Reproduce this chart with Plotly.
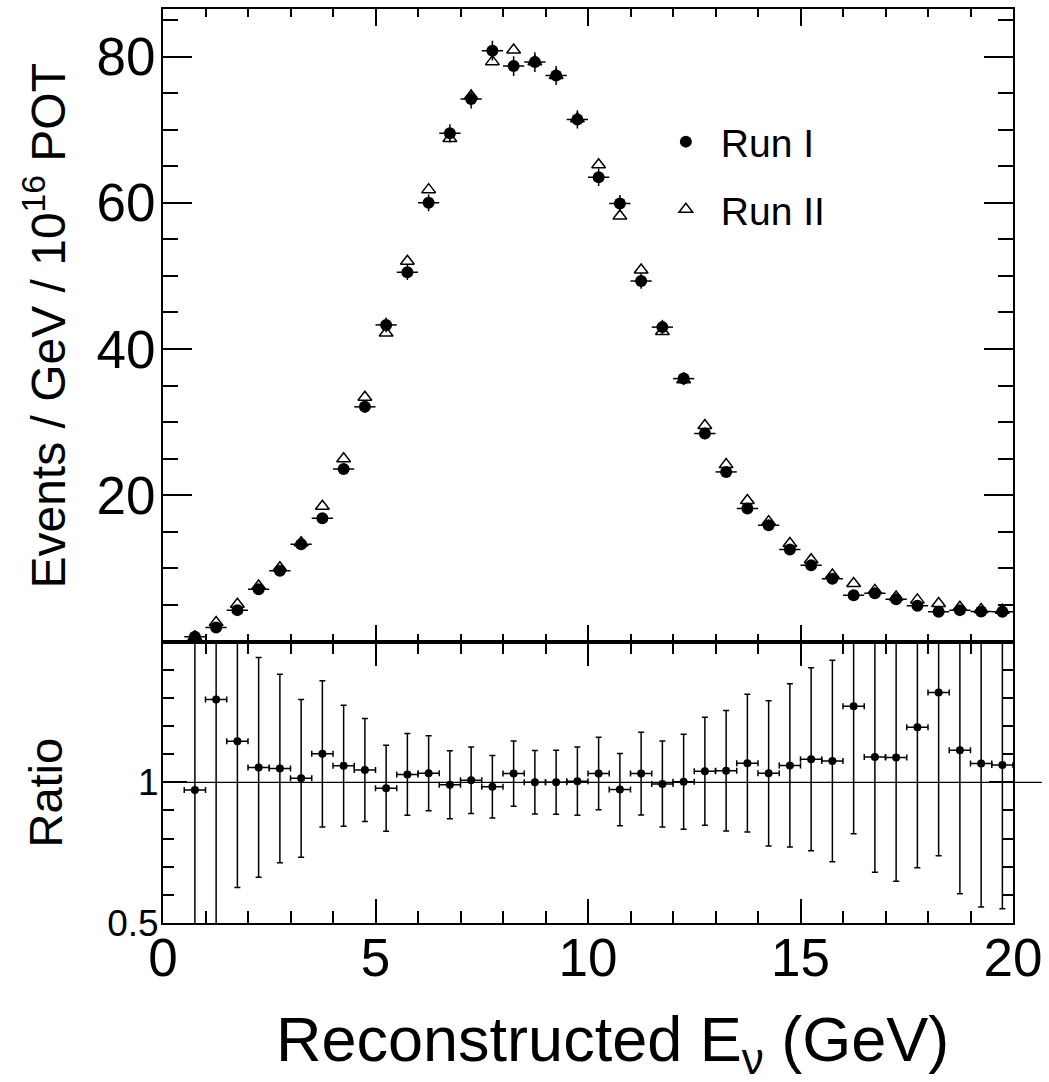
import plotly.graph_objects as go
from plotly.subplots import make_subplots

# Reconstructed neutrino energy bins (GeV): centres and half-width
e_nu = [0.75, 1.25, 1.75, 2.25, 2.75, 3.25, 3.75, 4.25, 4.75, 5.25,
        5.75, 6.25, 6.75, 7.25, 7.75, 8.25, 8.75, 9.25, 9.75, 10.25,
        10.75, 11.25, 11.75, 12.25, 12.75, 13.25, 13.75, 14.25, 14.75, 15.25,
        15.75, 16.25, 16.75, 17.25, 17.75, 18.25, 18.75, 19.25, 19.75]
bin_half_width = 0.25

# Events / GeV / 1e16 POT
run1 = [0.67, 1.94, 4.3, 7.17, 9.67, 13.3, 16.85, 23.6, 32.1, 43.3,
        50.5, 60.0, 69.5, 74.2, 80.8, 78.7, 79.25, 77.4, 71.4, 63.5,
        59.9, 49.3, 43.0, 35.96, 28.45, 23.2, 18.2, 15.9, 12.6, 10.45,
        8.6, 6.35, 6.6, 5.8, 4.9, 4.08, 4.3, 4.1, 4.08]
run1_err = [0.12, 0.2, 0.3, 0.4, 0.45, 0.55, 0.6, 0.7, 0.85, 1.0,
            1.05, 1.15, 1.25, 1.3, 1.35, 1.35, 1.35, 1.3, 1.25, 1.2,
            1.15, 1.05, 1.0, 0.9, 0.8, 0.7, 0.65, 0.6, 0.55, 0.5,
            0.45, 0.4, 0.4, 0.35, 0.35, 0.3, 0.3, 0.3, 0.3]
run2 = [0.65, 2.6, 5.1, 7.6, 10.1, 13.5, 18.5, 25.0, 33.4, 42.2,
        52.0, 61.8, 68.8, 74.6, 79.3, 80.9, 79.3, 77.4, 71.5, 65.2,
        58.2, 50.8, 42.4, 35.8, 29.55, 24.2, 19.3, 16.4, 13.4, 11.2,
        9.1, 7.95, 7.0, 6.1, 5.7, 5.2, 4.7, 4.4, 4.3]

# Run II / Run I
ratio = [0.973, 1.294, 1.146, 1.053, 1.049, 1.014, 1.101, 1.059, 1.044, 0.979,
         1.028, 1.032, 0.991, 1.007, 0.984, 1.031, 1.000, 1.000, 1.004, 1.031,
         0.974, 1.031, 0.994, 1.002, 1.039, 1.041, 1.068, 1.032, 1.060, 1.082,
         1.076, 1.270, 1.090, 1.088, 1.196, 1.319, 1.114, 1.067, 1.061]
ratio_err = [0.9, 0.9, 0.52, 0.39, 0.335, 0.28, 0.26, 0.215, 0.183, 0.153,
             0.145, 0.133, 0.121, 0.118, 0.111, 0.116, 0.113, 0.114, 0.121, 0.129,
             0.128, 0.147, 0.153, 0.169, 0.192, 0.214, 0.245, 0.258, 0.29, 0.325,
             0.358, 0.453, 0.41, 0.44, 0.50, 0.58, 0.51, 0.51, 0.51]

x_range = [0, 20]
top_range = [0, 86.5]
ratio_range = [0.5, 1.5]
top_ticks = [20, 40, 60, 80]
ratio_ticks = [0.5, 1.0]
x_ticks = [0, 5, 10, 15, 20]

FONT = "Liberation Sans, Arial, Helvetica, sans-serif"
W, H = 1049, 1082
ML, MR, MT, MB = 163, 34, 7, 159
ratio_frac = 0.3079

fig = make_subplots(rows=2, cols=1, shared_xaxes=False, vertical_spacing=0,
                    row_heights=[1 - ratio_frac, ratio_frac])

half = [bin_half_width] * len(e_nu)

fig.add_trace(go.Scatter(
    x=e_nu, y=run1, mode="markers", name="Run I", legendgroup="a",
    marker=dict(symbol="circle", size=12, color="black"),
    error_y=dict(type="data", array=run1_err, color="black", thickness=1.5, width=0),
    error_x=dict(type="data", array=half, color="black", thickness=1.5, width=0),
), row=1, col=1)

fig.add_trace(go.Scatter(
    x=e_nu, y=run2, mode="markers", name="Run II", legendgroup="b",
    marker=dict(symbol="triangle-up-open", size=12, color="black",
                line=dict(width=1.5, color="black")),
), row=1, col=1)

fig.add_trace(go.Scatter(
    x=e_nu, y=ratio, mode="markers", showlegend=False,
    marker=dict(symbol="circle", size=8, color="black"),
    error_y=dict(type="data", array=ratio_err, color="black", thickness=1.5, width=3),
    error_x=dict(type="data", array=half, color="black", thickness=1.5, width=3),
), row=2, col=1)

axis_common = dict(showline=True, linecolor="black", linewidth=2, mirror="allticks",
                   ticks="inside", tickcolor="black", tickwidth=1.5,
                   showgrid=False, zeroline=False)

fig.update_xaxes(range=x_range, tickvals=x_ticks, showticklabels=False,
                 ticklen=17, minor=dict(dtick=1, ticklen=8, ticks="inside",
                                        tickcolor="black", tickwidth=1.5),
                 row=1, col=1, **axis_common)
fig.update_xaxes(range=x_range, tickvals=x_ticks, ticklen=24,
                 ticklabelstandoff=-13,
                 tickfont=dict(family=FONT, size=53, color="black"),
                 minor=dict(dtick=1, ticklen=12, ticks="inside",
                            tickcolor="black", tickwidth=1.5),
                 row=2, col=1, **axis_common)
fig.update_yaxes(range=top_range, tickvals=top_ticks, ticklen=29,
                 ticklabelstandoff=-5,
                 tickfont=dict(family=FONT, size=53, color="black"),
                 minor=dict(dtick=5, tick0=0, ticklen=15, ticks="inside",
                            tickcolor="black", tickwidth=1.5),
                 row=1, col=1, **axis_common)
fig.update_yaxes(range=ratio_range, tickvals=ratio_ticks, ticktext=["0.5", "1"],
                 ticklabelstandoff=-5,
                 ticklen=24, tickfont=dict(family=FONT, size=37, color="black"),
                 minor=dict(dtick=0.1, tick0=0.5, ticklen=11, ticks="inside",
                            tickcolor="black", tickwidth=1.5),
                 row=2, col=1, **axis_common)

# reference line at ratio = 1, reaching past the right frame
y2_dom = [0, ratio_frac]
y_one = y2_dom[0] + (1.0 - ratio_range[0]) / (ratio_range[1] - ratio_range[0]) * (y2_dom[1] - y2_dom[0])
plot_w = W - ML - MR
fig.add_shape(type="line", xref="paper", yref="paper", x0=0, x1=(1044 - ML) / plot_w,
              y0=y_one, y1=y_one, line=dict(color="black", width=1.2), layer="above")

plot_h = H - MT - MB
def px_x(p):
    return (p - ML) / plot_w
def px_y(p):
    return (H - MB - p) / plot_h

fig.add_annotation(text="Events / GeV / 10<sup>16</sup> POT", textangle=-90,
                   xref="paper", yref="paper", x=px_x(45), y=px_y(324),
                   xanchor="center", yanchor="middle", showarrow=False,
                   font=dict(family=FONT, size=48, color="black"))
fig.add_annotation(text="Ratio", textangle=-90,
                   xref="paper", yref="paper", x=px_x(45), y=px_y(792),
                   xanchor="center", yanchor="middle", showarrow=False,
                   font=dict(family=FONT, size=47, color="black"))
fig.add_annotation(text="Reconstructed E<sub>ν</sub> (GeV)",
                   xref="paper", yref="paper", x=px_x(614), y=px_y(1044),
                   xanchor="center", yanchor="middle", showarrow=False,
                   font=dict(family=FONT, size=63, color="black"))

fig.update_layout(
    width=W, height=H,
    margin=dict(l=ML, r=MR, t=MT, b=MB, pad=0),
    paper_bgcolor="white", plot_bgcolor="white",
    showlegend=True,
    legend=dict(x=px_x(652), y=px_y(108), xanchor="left", yanchor="top",
                bgcolor="rgba(0,0,0,0)", borderwidth=0, itemwidth=60,
                tracegroupgap=14,
                font=dict(family=FONT, size=39, color="black")),
    font=dict(family=FONT, color="black"),
)

fig.write_html("out.html")
